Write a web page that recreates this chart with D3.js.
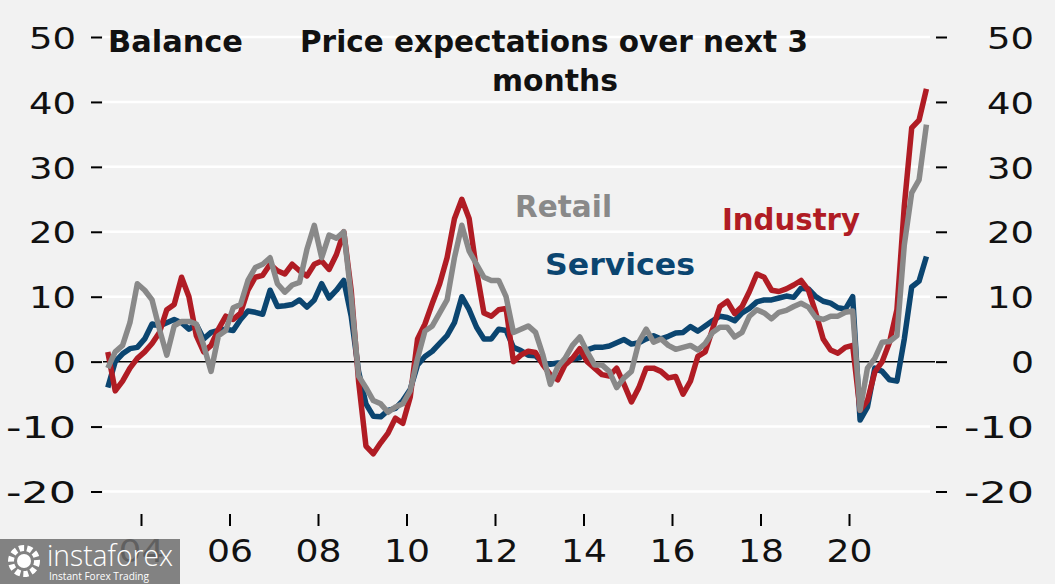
<!DOCTYPE html>
<html>
<head>
<meta charset="utf-8">
<script src="https://cdn.jsdelivr.net/npm/d3@7"></script>
<style>
  html, body { margin: 0; padding: 0; background: #f2f2f2; }
  svg { display: block; }
</style>
</head>
<body>
<svg id="chart" width="1055" height="584"></svg>
<script>
// Price expectations over next 3 months (balance), bimonthly readings from Apr 2003
const startYear = 2003.25;
const stepYears = 1 / 6;

const industry = [
   1.5, -4.5, -3.0, -1.0,  0.5,  1.5,  2.8,  4.5,  8.0,  8.8, 13.0, 10.0,
   4.0,  1.5,  2.5,  5.0,  7.0,  6.5,  7.5, 11.0, 13.0, 13.3, 15.0, 14.0,
  13.5, 15.0, 14.0, 13.2, 15.0, 15.5, 14.2, 16.5, 20.0, 11.0, -3.0,-13.0,
 -14.2,-12.5,-11.0, -8.7, -9.5, -5.5,  3.5,  5.8,  9.0, 12.0, 16.0, 22.0,
  25.0, 22.0, 14.0,  7.5,  7.0,  8.0,  8.2,  0.0,  1.0,  1.6,  1.4, -0.5,
  -2.0, -2.8, -0.5,  0.5,  2.0,  0.0, -1.0, -2.0, -2.2, -1.0, -3.5, -6.2,
  -4.0, -1.0, -1.0, -1.5, -2.5, -2.3, -5.0, -3.0,  0.8,  1.5,  5.0,  8.5,
   9.3,  7.4,  8.5, 10.8, 13.5, 13.0, 11.0, 10.8, 11.2, 11.8, 12.5, 11.0,
   7.5,  3.5,  1.8,  1.3,  2.2,  2.5, -7.5, -6.0, -1.6,  0.0,  3.0,  8.0,
  24.0, 36.0, 37.2, 42.0
];

const services = [
  -4.0,  0.0,  1.2,  2.0,  2.2,  3.5,  5.8,  5.5,  6.0,  6.5,  6.0,  5.0,
   5.7,  3.5,  4.5,  4.8,  5.0,  4.8,  6.5,  7.8,  7.6,  7.3, 11.0,  8.5,
   8.6,  8.8,  9.5,  8.4,  9.5, 12.0,  9.8, 11.0, 12.5,  7.0, -1.5, -6.5,
  -8.4, -8.5, -7.5, -7.2, -6.0, -4.3, -0.5,  0.8,  1.6,  2.8,  4.0,  6.0,
  10.0,  8.0,  5.3,  3.5,  3.5,  5.0,  4.8,  2.2,  1.7,  1.0,  0.9, -0.2,
  -0.4, -0.2, -0.2,  0.4,  0.6,  1.8,  2.2,  2.2,  2.4,  2.9,  3.4,  2.7,
   2.9,  3.5,  4.0,  3.5,  3.9,  4.4,  4.5,  5.4,  4.7,  5.5,  6.3,  7.0,
   6.8,  6.3,  7.5,  8.2,  9.2,  9.5,  9.5,  9.8, 10.1,  9.9, 11.3, 11.2,
  10.0,  9.3,  9.0,  8.3,  8.1, 10.0, -9.0, -7.0, -1.0, -1.5, -2.8, -3.0,
   3.5, 11.5, 12.4, 16.2
];

const retail = [
  -1.0,  1.5,  2.5,  6.0, 12.0, 11.0,  9.5,  5.0,  1.0,  5.5,  6.2,  6.2,
   5.8,  2.5, -1.5,  4.0,  4.8,  8.3,  8.8, 12.5, 14.5, 15.0, 16.0, 12.0,
  10.7, 11.8, 12.2, 17.3, 21.0, 16.0, 19.5, 19.0, 20.0, 10.0, -2.2, -4.0,
  -6.0, -6.5, -7.8, -7.0, -6.5, -4.5,  0.5,  4.7,  5.5,  7.5,  9.5, 16.0,
  21.0, 17.0, 15.0, 13.0, 12.5, 12.5, 10.0,  4.5,  5.0,  5.5,  4.5,  1.0,
  -3.5, -0.8,  0.5,  2.5,  3.8,  1.5, -0.5, -0.5, -1.5, -4.0, -2.5, -1.5,
   3.0,  5.0,  3.0,  3.5,  2.5,  1.9,  2.2,  2.5,  1.8,  2.8,  4.5,  5.3,
   5.3,  3.8,  4.5,  7.0,  8.0,  7.5,  6.6,  7.6,  7.9,  8.5,  9.0,  8.4,
   6.8,  6.5,  7.0,  7.0,  7.6,  7.8, -7.5, -1.0,  0.5,  3.0,  3.1,  4.0,
  18.0, 26.0, 28.0, 36.5
];

const yTicks = [-20, -10, 0, 10, 20, 30, 40, 50];
const xTicks = [2004, 2006, 2008, 2010, 2012, 2014, 2016, 2018, 2020];
const xTickLabels = ['04', '06', '08', '10', '12', '14', '16', '18', '20'];

const dates = industry.map((_, i) => startYear + i * stepYears);

const svg = d3.select('#chart');
const W = 1055, H = 584;
const FONT = '"DejaVu Sans", sans-serif';

svg.append('rect').attr('width', W).attr('height', H).attr('fill', '#f2f2f2');

const x = d3.scaleLinear().domain([2004, 2020]).range([141, 849]);
const y = d3.scaleLinear().domain([-20, 50]).range([491.5, 37]);

const plotLeft = 103, plotRight = 930;

// Gridlines
svg.append('g')
    .selectAll('line')
    .data(yTicks)
    .join('line')
    .attr('x1', plotLeft)
    .attr('x2', plotRight)
    .attr('y1', d => y(d))
    .attr('y2', d => y(d))
    .attr('stroke', '#ffffff')
    .attr('stroke-width', 2.5);

// Zero line
svg.append('line')
    .attr('x1', plotLeft).attr('x2', 935)
    .attr('y1', y(0)).attr('y2', y(0))
    .attr('stroke', '#000')
    .attr('stroke-width', 1.5);

const labelWidth = d => d === 0 ? 23 : (d < 0 ? 70 : 47);
const fmt = d => d < 0 ? '-' + Math.abs(d) : String(d);

// Left axis
const leftAxis = svg.append('g')
    .attr('transform', 'translate(102,0)')
    .call(d3.axisLeft(y).tickValues(yTicks).tickSize(11).tickPadding(26).tickFormat(fmt));

// Right axis
const rightAxis = svg.append('g')
    .attr('transform', 'translate(936,0)')
    .call(d3.axisRight(y).tickValues(yTicks).tickSize(11).tickFormat(fmt));

[leftAxis, rightAxis].forEach(ax => {
    ax.select('.domain').remove();
    ax.selectAll('.tick line').attr('stroke', '#000').attr('stroke-width', 2);
    ax.selectAll('.tick text')
        .attr('font-family', FONT)
        .attr('font-size', 31)
        .attr('fill', '#111')
        .attr('dy', '0.36em')
        .attr('text-anchor', 'end')
        .attr('textLength', d => labelWidth(d))
        .attr('lengthAdjust', 'spacingAndGlyphs');
});
leftAxis.selectAll('.tick text').attr('x', -26);
rightAxis.selectAll('.tick text').attr('x', 98);

// Bottom axis
const bottomAxis = svg.append('g')
    .attr('transform', 'translate(0,514)')
    .call(d3.axisBottom(x).tickValues(xTicks).tickSize(12)
        .tickFormat((d, i) => xTickLabels[i]));
bottomAxis.select('.domain').remove();
bottomAxis.selectAll('.tick line').attr('stroke', '#000').attr('stroke-width', 2);
bottomAxis.selectAll('.tick text')
    .attr('font-family', FONT)
    .attr('font-size', 32)
    .attr('fill', '#111')
    .attr('y', 48)
    .attr('dy', 0)
    .attr('textLength', 46)
    .attr('lengthAdjust', 'spacingAndGlyphs');

// Series
const line = d3.line()
    .x((d, i) => x(dates[i]))
    .y(d => y(d));

const series = [
    { name: 'Services', values: services, color: '#0b4570' },
    { name: 'Industry', values: industry, color: '#b01c24' },
    { name: 'Retail',   values: retail,   color: '#898989' },
];

svg.append('g')
    .selectAll('path')
    .data(series)
    .join('path')
    .attr('d', d => line(d.values))
    .attr('fill', 'none')
    .attr('stroke', d => d.color)
    .attr('stroke-width', 5.5)
    .attr('stroke-linejoin', 'round');

// Titles
const addText = (txt, tx, ty, len, opts = {}) => svg.append('text')
    .attr('x', tx).attr('y', ty)
    .attr('font-family', FONT)
    .attr('font-weight', opts.weight || 'bold')
    .attr('font-size', opts.size || 31)
    .attr('fill', opts.color || '#111')
    .attr('text-anchor', opts.anchor || 'start')
    .attr('textLength', len)
    .attr('lengthAdjust', 'spacingAndGlyphs')
    .text(txt);

addText('Balance', 108, 52, 135);
addText('Price expectations over next 3', 554, 52, 508, { anchor: 'middle' });
addText('months', 555, 91, 126, { anchor: 'middle' });

// Series labels
addText('Retail', 515, 217, 97, { color: '#898989' });
addText('Services', 545, 275, 150, { color: '#0b4570' });
addText('Industry', 722, 230, 138, { color: '#b01c24' });

// Watermark
const wm = svg.append('g');
wm.append('rect')
    .attr('x', 0).attr('y', 539).attr('width', 180).attr('height', 45)
    .attr('fill', '#6f6f6f').attr('opacity', 0.85);
wm.append('circle')
    .attr('cx', 24).attr('cy', 561).attr('r', 13)
    .attr('fill', 'none').attr('stroke', '#fff').attr('stroke-width', 6)
    .attr('stroke-dasharray', '5 3');
wm.append('circle')
    .attr('cx', 24).attr('cy', 561).attr('r', 7)
    .attr('fill', '#fff');
wm.append('text')
    .attr('x', 47).attr('y', 566)
    .attr('font-family', '"Open Sans", sans-serif')
    .attr('font-weight', 300)
    .attr('font-size', 29)
    .attr('fill', '#fff')
    .attr('textLength', 126)
    .attr('lengthAdjust', 'spacingAndGlyphs')
    .text('instaforex');
wm.append('text')
    .attr('x', 49).attr('y', 580)
    .attr('font-family', '"Open Sans", sans-serif')
    .attr('font-size', 11)
    .attr('fill', '#fff')
    .attr('textLength', 100)
    .attr('lengthAdjust', 'spacingAndGlyphs')
    .text('Instant Forex Trading');
</script>
</body>
</html>
